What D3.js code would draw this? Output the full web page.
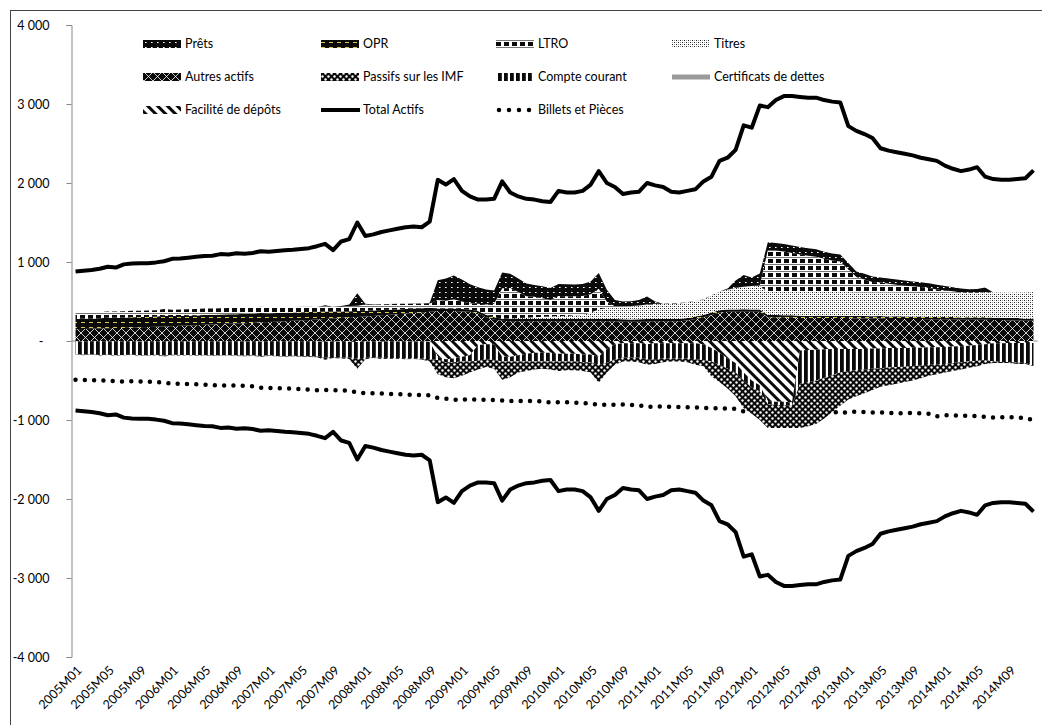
<!DOCTYPE html>
<html><head><meta charset="utf-8">
<script src="https://cdn.jsdelivr.net/npm/d3@7"></script>
<style>
html,body{margin:0;padding:0;background:#fff;overflow:hidden;}
#wrap{position:relative;width:1042px;height:725px;}
#frame{position:absolute;left:10px;top:10px;width:1040px;height:730px;border-left:1px solid #444;border-top:1px solid #444;box-sizing:border-box;pointer-events:none;}
svg{display:block;position:absolute;left:0;top:0;}
text{font-family:Lato,"Open Sans",sans-serif;fill:#000;}
</style>
</head><body>
<div id="wrap"><svg id="c" width="1042" height="725"></svg><div id="frame"></div></div>
<script>
// ---------- DATA ----------
const years = [2005,2006,2007,2008,2009,2010,2011,2012,2013,2014];
const categories = [];
years.forEach(y => { for (let m = 1; m <= 12; m++) categories.push(y + "M" + String(m).padStart(2, "0")); });

const tickLabels = ["2005M01","2005M05","2005M09","2006M01","2006M05","2006M09","2007M01","2007M05","2007M09",
  "2008M01","2008M05","2008M09","2009M01","2009M05","2009M09","2010M01","2010M05","2010M09",
  "2011M01","2011M05","2011M09","2012M01","2012M05","2012M09","2013M01","2013M05","2013M09",
  "2014M01","2014M05","2014M09"];
const yTicks = [-4000,-3000,-2000,-1000,0,1000,2000,3000,4000];

// Assets (positive stack)
const autresActifs = [
  150,152,155,158,160,163,166,170,173,176,180,184,
  188,192,196,200,205,210,214,218,222,226,230,236,
  240,245,250,255,260,266,272,278,285,292,300,305,
  310,318,325,332,340,348,355,362,370,380,380,380,
  375,370,350,300,270,255,250,250,250,250,250,250,
  250,250,250,250,250,250,250,250,245,245,245,245,
  250,250,250,250,260,280,300,330,360,370,370,370,
  370,370,300,300,295,295,290,290,290,290,290,290,
  290,285,285,285,285,280,280,280,280,280,275,275,
  275,275,270,270,270,270,265,265,260,260,255,255];
const opr = [
  130,132,128,130,135,130,128,132,130,128,130,135,
  128,125,125,122,125,120,120,122,118,118,115,118,
  112,110,108,106,104,102,98,94,88,82,78,75,
  72,68,66,62,60,58,55,52,50,30,30,30,
  30,28,30,32,30,28,30,30,28,30,32,30,
  30,28,30,30,32,30,28,30,30,28,30,32,
  30,28,30,30,32,30,28,30,30,28,30,32,
  30,28,30,30,32,30,30,28,30,30,28,30,
  28,30,30,28,30,30,32,30,28,30,30,28,
  30,30,28,30,30,32,30,28,30,30,28,30];
const titres = [
  0,0,0,0,0,0,0,0,0,0,0,0,
  0,0,0,0,0,0,0,0,0,0,0,0,
  0,0,0,0,0,0,0,0,0,0,0,0,
  0,0,0,0,0,0,0,0,0,0,0,0,
  0,0,0,0,0,0,5,10,15,20,25,30,
  35,40,45,50,80,120,140,150,160,165,170,180,
  185,190,195,195,195,195,195,215,230,250,270,280,
  290,300,290,295,300,300,305,305,305,305,305,300,
  302,300,298,300,300,305,303,300,300,298,300,305,
  305,308,310,310,312,315,318,320,322,325,330,335];
const ltro = [
  75,78,80,80,78,80,82,80,80,82,80,85,
  80,82,82,84,80,80,80,78,80,78,80,80,
  76,74,72,70,68,66,60,70,60,60,65,65,
  80,70,75,70,72,65,60,60,55,110,100,120,
  95,80,90,130,170,385,385,330,275,260,235,210,
  255,250,240,240,230,260,80,10,5,5,5,5,
  5,5,5,5,5,5,5,5,5,5,5,5,
  5,5,530,520,505,490,470,455,440,415,395,385,
  288,195,167,135,125,110,97,90,85,77,65,45,
  30,17,5,0,0,0,0,0,0,0,0,0];
const prets = [
  0,0,0,0,0,0,0,0,0,0,0,0,
  0,0,0,0,0,0,0,0,0,0,0,0,
  0,0,0,0,0,0,0,10,0,10,20,160,
  10,5,0,5,0,0,5,0,10,250,280,300,
  280,240,210,190,170,200,180,170,160,150,150,150,
  150,150,150,150,160,200,150,80,60,60,70,100,
  30,0,0,0,0,0,0,0,0,10,90,150,
  110,150,100,95,95,95,95,95,95,90,90,90,
  80,70,70,70,65,65,65,65,60,60,60,60,
  55,50,50,45,45,60,0,0,0,0,0,0];

// Liabilities (negative stack)
const faciliteDepots = [
  -3,-5,-2,-4,-3,-6,-4,-3,-5,-4,-3,-6,
  -4,-3,-5,-2,-4,-3,-5,-4,-3,-6,-4,-5,
  -3,-4,-5,-3,-4,-2,-5,-8,-6,-10,-8,-12,
  -6,-5,-8,-4,-6,-5,-7,-6,-10,-200,-230,-220,
  -200,-180,-50,-40,-40,-200,-200,-180,-160,-150,-150,-150,
  -160,-160,-160,-170,-170,-200,-100,-40,-30,-30,-30,-40,
  -30,-30,-30,-30,-30,-30,-40,-90,-150,-220,-280,-400,
  -500,-560,-760,-770,-770,-780,-120,-115,-110,-105,-100,-100,
  -100,-100,-100,-95,-95,-90,-90,-90,-85,-85,-80,-80,
  -75,-70,-65,-60,-50,-40,-30,-30,-25,-25,-25,-25];
const compteCourant = [
  -165,-170,-168,-172,-170,-175,-172,-170,-175,-178,-172,-180,
  -170,-175,-172,-178,-175,-180,-178,-176,-180,-182,-178,-185,
  -182,-185,-188,-185,-190,-192,-190,-200,-195,-198,-200,-210,
  -205,-200,-205,-210,-208,-212,-210,-215,-220,-40,-40,-50,
  -60,-80,-200,-190,-200,-60,-60,-80,-100,-110,-110,-110,
  -100,-100,-100,-100,-100,-100,-180,-190,-180,-180,-180,-190,
  -200,-190,-190,-190,-190,-200,-200,-170,-150,-130,-120,-100,
  -90,-80,-40,-40,-40,-40,-420,-410,-390,-360,-330,-300,
  -280,-270,-260,-255,-250,-245,-240,-235,-230,-225,-220,-220,
  -215,-210,-205,-200,-200,-200,-230,-235,-240,-250,-255,-285];
const passifsIMF = [
  -4,-6,-5,-8,-5,-6,-4,-5,-7,-5,-6,-10,
  -5,-6,-4,-7,-5,-6,-5,-4,-6,-5,-7,-10,
  -6,-5,-7,-6,-5,-8,-10,-30,-15,-12,-20,-130,
  -20,-10,-15,-10,-12,-15,-10,-12,-30,-180,-190,-200,
  -180,-140,-110,-100,-110,-230,-200,-140,-120,-100,-90,-100,
  -120,-110,-110,-110,-130,-230,-120,-70,-50,-50,-60,-70,
  -60,-50,-40,-40,-50,-70,-80,-190,-220,-250,-300,-350,
  -330,-360,-300,-290,-290,-280,-560,-555,-550,-515,-470,-420,
  -360,-330,-300,-270,-235,-225,-210,-195,-185,-160,-140,-120,
  -110,-100,-90,-80,-70,-50,-20,-15,-15,-15,-10,-10];
const certificatsDettes = [
  0,0,0,0,0,0,0,0,0,0,0,0, 0,0,0,0,0,0,0,0,0,0,0,0,
  0,0,0,0,0,0,0,0,0,0,0,0, 0,0,0,0,0,0,0,0,0,0,0,0,
  0,0,0,0,0,0,0,0,0,0,0,0, 0,0,0,0,0,0,0,0,0,0,0,0,
  0,0,0,0,0,0,0,0,0,0,0,0, 0,0,0,0,0,0,0,0,0,0,0,0,
  0,0,0,0,0,0,0,0,0,0,0,0, 0,0,0,0,0,0,0,0,0,0,0,0];

// Lines
const totalActifs = [
  880,890,900,915,940,930,970,980,985,985,995,1010,
  1040,1045,1055,1065,1075,1080,1100,1095,1110,1105,1115,1135,
  1130,1140,1150,1155,1165,1175,1200,1230,1150,1260,1290,1500,
  1330,1350,1380,1400,1420,1440,1450,1440,1510,2040,1980,2050,
  1900,1830,1790,1790,1800,2020,1880,1830,1800,1790,1770,1760,
  1900,1880,1880,1900,1980,2150,2000,1950,1860,1880,1890,2000,
  1970,1950,1890,1880,1900,1920,2020,2080,2280,2320,2420,2730,
  2700,2980,2960,3050,3100,3100,3090,3080,3080,3050,3030,3020,
  2720,2660,2620,2570,2440,2410,2390,2370,2350,2320,2300,2280,
  2220,2180,2150,2170,2200,2080,2050,2040,2040,2050,2060,2160];
const billetsPieces = [
  -490,-492,-495,-498,-502,-508,-512,-510,-512,-515,-518,-532,
  -540,-540,-545,-548,-552,-560,-565,-563,-565,-568,-572,-590,
  -595,-595,-600,-605,-610,-615,-622,-620,-622,-625,-630,-650,
  -660,-660,-665,-670,-672,-678,-685,-685,-688,-720,-730,-745,
  -740,-738,-740,-745,-748,-752,-760,-758,-758,-760,-765,-780,
  -775,-775,-780,-785,-795,-805,-810,-805,-805,-810,-815,-835,
  -830,-830,-832,-835,-838,-842,-848,-848,-852,-855,-860,-890,
  -870,-870,-872,-880,-885,-890,-895,-893,-890,-890,-892,-915,
  -900,-895,-900,-905,-905,-910,-915,-912,-912,-915,-920,-955,
  -940,-940,-945,-948,-952,-960,-968,-965,-965,-970,-975,-1005];

// ---------- CHART ----------
const svg = d3.select("#c");
const defs = svg.append("defs");

function pat(id, w, h, build, transform) {
  const p = defs.append("pattern").attr("id", id).attr("patternUnits", "userSpaceOnUse")
    .attr("width", w).attr("height", h);
  if (transform) p.attr("patternTransform", transform);
  build(p);
}
pat("pPrets", 6, 5, p => {
  p.append("rect").attr("width", 6).attr("height", 5).attr("fill", "#0a0a0a");
  p.append("rect").attr("x", 1).attr("y", 2).attr("width", 1.6).attr("height", 1).attr("fill", "#fff");
});
pat("pOPR", 8, 5, p => {
  p.append("rect").attr("width", 8).attr("height", 5).attr("fill", "#0a0a0a");
  p.append("rect").attr("x", 1).attr("y", 2).attr("width", 4).attr("height", 1).attr("fill", "#d8c85a");
});
pat("pLTRO", 8, 7, p => {
  p.append("rect").attr("width", 8).attr("height", 7).attr("fill", "#fff");
  p.append("rect").attr("width", 5).attr("height", 4).attr("fill", "#0a0a0a");
  p.append("rect").attr("y", 5).attr("width", 8).attr("height", 1).attr("fill", "#777");
});
pat("pTitres", 4, 4, p => {
  p.append("rect").attr("width", 4).attr("height", 4).attr("fill", "#fff");
  p.append("rect").attr("x", 0).attr("y", 0).attr("width", 1).attr("height", 1).attr("fill", "#222");
  p.append("rect").attr("x", 2).attr("y", 2).attr("width", 1).attr("height", 1).attr("fill", "#222");
  p.append("rect").attr("x", 2).attr("y", 0).attr("width", 1).attr("height", 1).attr("fill", "#999");
  p.append("rect").attr("x", 0).attr("y", 2).attr("width", 1).attr("height", 1).attr("fill", "#999");
});
pat("pAutres", 9, 9, p => {
  p.append("rect").attr("width", 9).attr("height", 9).attr("fill", "#0a0a0a");
  p.append("path").attr("d", "M-1,1L1,-1M0,9L9,0M8,10L10,8M-1,8L1,10M0,0L9,9M8,-1L10,1")
    .attr("stroke", "#fff").attr("stroke-width", 0.8);
});
pat("pIMF", 6, 6, p => {
  p.append("rect").attr("width", 6).attr("height", 6).attr("fill", "#0a0a0a");
  p.append("circle").attr("cx", 1.5).attr("cy", 1.5).attr("r", 1.2).attr("fill", "#fff");
  p.append("circle").attr("cx", 4.5).attr("cy", 4.5).attr("r", 1.2).attr("fill", "#fff");
});
pat("pCC", 6, 6, p => {
  p.append("rect").attr("width", 6).attr("height", 6).attr("fill", "#fff");
  p.append("rect").attr("width", 3.8).attr("height", 6).attr("fill", "#0a0a0a");
});
pat("pFac", 7, 7, p => {
  p.append("rect").attr("width", 7).attr("height", 7).attr("fill", "#fff");
  p.append("rect").attr("width", 3).attr("height", 7).attr("fill", "#0a0a0a");
}, "rotate(-45)");

const x = d3.scaleBand().domain(categories).range([71.5, 1037.5]);
const xc = c => x(c) + x.bandwidth() / 2;
const y = d3.scaleLinear().domain([-4000, 4000]).range([657, 25]);

const rows = categories.map((c, i) => ({
  cat: c, autres: autresActifs[i], opr: opr[i], titres: titres[i], ltro: ltro[i], prets: prets[i],
  facilite: faciliteDepots[i], compte: compteCourant[i], imf: passifsIMF[i], certif: certificatsDettes[i]
}));
const fills = {
  autres: "url(#pAutres)", opr: "url(#pOPR)", titres: "url(#pTitres)", ltro: "url(#pLTRO)", prets: "url(#pPrets)",
  facilite: "url(#pFac)", compte: "url(#pCC)", imf: "url(#pIMF)", certif: "#9a9a9a"
};
const posStack = d3.stack().keys(["autres", "opr", "titres", "ltro", "prets"])(rows);
const negStack = d3.stack().keys(["facilite", "compte", "imf", "certif"])(rows);

// zero line
svg.append("line").attr("x1", 71.5).attr("x2", 1037.5).attr("y1", y(0)).attr("y2", y(0))
  .attr("stroke", "#888").attr("stroke-width", 1);

// billets line (under areas)
svg.append("path").datum(billetsPieces)
  .attr("d", d3.line().x((d, i) => xc(categories[i])).y(d => y(d)))
  .attr("fill", "none").attr("stroke", "#000").attr("stroke-width", 4.5)
  .attr("stroke-linecap", "round").attr("stroke-dasharray", "0 9.3");

const area = d3.area().x(d => xc(d.data.cat)).y0(d => y(d[0])).y1(d => y(d[1]));
svg.append("g").selectAll("path").data(posStack.concat(negStack)).join("path")
  .attr("d", area).attr("fill", d => fills[d.key]).attr("stroke", "none");

// total lines
const tl = d3.line().x((d, i) => xc(categories[i])).y(d => y(d));
svg.append("path").datum(totalActifs).attr("d", tl)
  .attr("fill", "none").attr("stroke", "#000").attr("stroke-width", 4).attr("stroke-linejoin", "round");
svg.append("path").datum(totalActifs.map(v => -v)).attr("d", tl)
  .attr("fill", "none").attr("stroke", "#000").attr("stroke-width", 4).attr("stroke-linejoin", "round");

// y axis
const loc = d3.formatLocale({decimal: ",", thousands: "\u00a0", grouping: [3], currency: ["", ""], minus: "-"});
const fmt = loc.format(",d");
const yAxis = d3.axisLeft(y).tickValues(yTicks).tickSize(5).tickPadding(17)
  .tickFormat(d => d === 0 ? "-" : fmt(d));
const ga = svg.append("g").attr("transform", "translate(71.5,0)").call(yAxis);
ga.select(".domain").attr("stroke", "#888");
ga.selectAll(".tick line").attr("stroke", "#888");
ga.selectAll(".tick text").attr("font-family", "Lato, 'Open Sans', sans-serif").attr("font-size", 12.5)
  .attr("fill", "#000").attr("dx", d => d === 0 ? -6 : 0);

// x labels
svg.append("g").selectAll("text").data(tickLabels).join("text")
  .attr("transform", d => `translate(${xc(d) + 4},${668}) rotate(-45)`)
  .attr("text-anchor", "end").attr("dy", "0.35em")
  .attr("font-size", 12.5).text(d => d);

// legend
const legend = [
  {name: "Prêts", kind: "area", fill: fills.prets, c: 0, r: 0},
  {name: "OPR", kind: "area", fill: fills.opr, c: 1, r: 0},
  {name: "LTRO", kind: "area", fill: fills.ltro, c: 2, r: 0},
  {name: "Titres", kind: "area", fill: fills.titres, c: 3, r: 0},
  {name: "Autres actifs", kind: "area", fill: fills.autres, c: 0, r: 1},
  {name: "Passifs sur les IMF", kind: "area", fill: fills.imf, c: 1, r: 1},
  {name: "Compte courant", kind: "area", fill: fills.compte, c: 2, r: 1},
  {name: "Certificats de dettes", kind: "gray", fill: fills.certif, c: 3, r: 1},
  {name: "Facilité de dépôts", kind: "area", fill: fills.facilite, c: 0, r: 2},
  {name: "Total Actifs", kind: "line", c: 1, r: 2},
  {name: "Billets et Pièces", kind: "dots", c: 2, r: 2}
];
const colX = [143, 321, 496, 672];
const rowY = [44, 77, 110];
const lg = svg.append("g");
legend.forEach(it => {
  const x0 = colX[it.c], y0 = rowY[it.r];
  if (it.kind === "area") {
    lg.append("rect").attr("x", x0).attr("y", y0 - 4).attr("width", 38).attr("height", 8).attr("fill", it.fill);
  } else if (it.kind === "gray") {
    lg.append("rect").attr("x", x0).attr("y", y0 - 2.5).attr("width", 38).attr("height", 5).attr("fill", it.fill);
  } else if (it.kind === "line") {
    lg.append("line").attr("x1", x0).attr("x2", x0 + 39).attr("y1", y0).attr("y2", y0)
      .attr("stroke", "#000").attr("stroke-width", 4);
  } else {
    lg.append("line").attr("x1", x0 + 3).attr("x2", x0 + 35).attr("y1", y0).attr("y2", y0)
      .attr("stroke", "#000").attr("stroke-width", 4.5).attr("stroke-linecap", "round").attr("stroke-dasharray", "0 10");
  }
  lg.append("text").attr("x", x0 + 42).attr("y", y0).attr("dy", "0.35em")
    .attr("font-size", 12.5).text(it.name);
});
</script>
</body></html>
